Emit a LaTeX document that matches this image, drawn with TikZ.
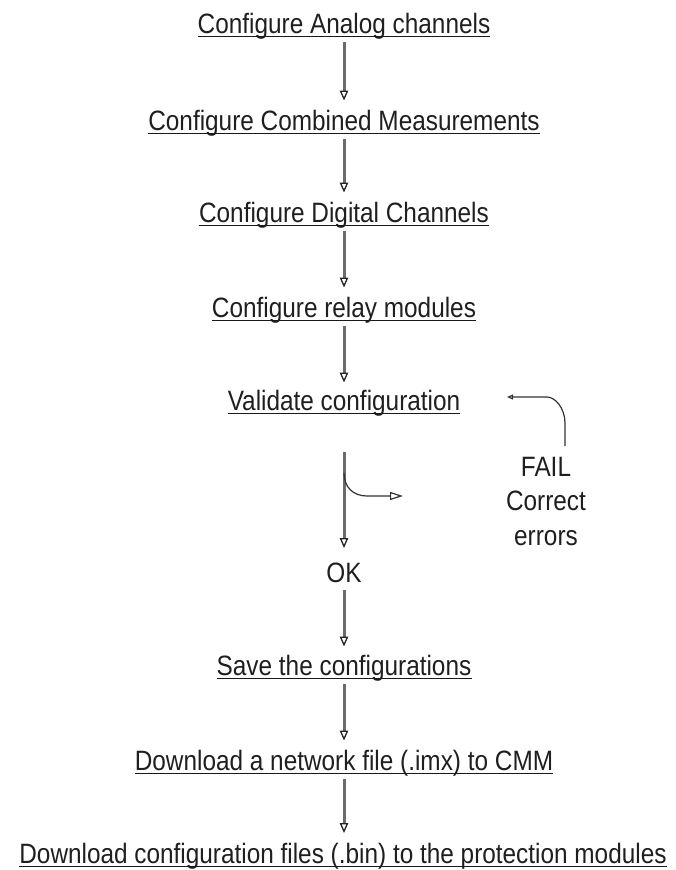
\documentclass[tikz,border=0pt]{standalone}
\usepackage{fontspec}
\setmainfont{Liberation Sans}[FakeStretch=0.87]
\usetikzlibrary{arrows.meta}
\begin{document}
\begin{tikzpicture}[x=1pt,y=-1pt,
  lbl/.style={inner sep=0pt, anchor=base, font=\fontsize{28}{34.5}\selectfont, text=black!88},
  flow/.style={draw=black!58, line width=3pt,
    -{Triangle[open,length=10pt,width=8.5pt,line width=1.3pt,color=black!85]}},
  thinarrow/.style={draw=black!80, line width=1.2pt,
    -{Triangle[open,length=13pt,width=8pt,line width=1.2pt]}},
  backarrow/.style={draw=black!80, line width=1.2pt,
    -{Triangle[open,length=6pt,width=5pt,line width=1.2pt]}},
  uline/.style={draw=black!90, line width=0.9pt}]
\useasboundingbox (0,0) rectangle (675,870);

\node[lbl] (n1) at (344,33) {Configure Analog channels};
\node[lbl] (n2) at (344,130) {Configure Combined Measurements};
\node[lbl] (n3) at (344,222) {Configure Digital Channels};
\node[lbl] (n4) at (344,317) {Configure relay modules};
\node[lbl] (n5) at (344,410) {Validate configuration};
\node[lbl] (ok) at (344,582) {OK};
\node[lbl] (n6) at (344,675) {Save the configurations};
\node[lbl] (n7) at (344,770) {Download a network file (.imx) to CMM};
\node[lbl] (n8) at (343,863) {Download configuration files (.bin) to the protection modules};
\node[lbl, anchor=north, align=center] (fail) at (546,457) {FAIL\\Correct\\errors};

\foreach \n in {n1,n2,n3,n4,n5,n6,n7,n8}
  \draw[uline] ([yshift=-3.5pt]\n.base west) -- ([yshift=-3.5pt]\n.base east);

\draw[flow] ([yshift=-8.5pt]n1.base) -- ([yshift=29.5pt]n2.base);
\draw[flow] ([yshift=-8.5pt]n2.base) -- ([yshift=29.5pt]n3.base);
\draw[flow] ([yshift=-8.5pt]n3.base) -- ([yshift=29.5pt]n4.base);
\draw[flow] ([yshift=-8.5pt]n4.base) -- ([yshift=27.5pt]n5.base);
\draw[flow] ([yshift=-42pt]n5.base) -- ([yshift=34pt]ok.base);
\draw[flow] ([yshift=-8pt]ok.base) -- ([yshift=28.5pt]n6.base);
\draw[flow] ([yshift=-8.5pt]n6.base) -- ([yshift=29.5pt]n7.base);
\draw[flow] ([yshift=-8.5pt]n7.base) -- ([xshift=1pt,yshift=30pt]n8.base);

% OK branch split
\coordinate (bsplit) at ([yshift=-63pt]n5.base);
\coordinate (bcorner) at (367,496);
\coordinate (bend) at (403,496);
\draw[thinarrow] (bsplit) .. controls ([yshift=-14pt]bsplit) and ([xshift=-14pt]bcorner) .. (bcorner) -- (bend);

% FAIL loop back
\coordinate (lstart) at ([xshift=19pt,yshift=11pt]fail.north);
\coordinate (lcorner) at (547,397);
\coordinate (lend) at (507,397);
\draw[backarrow] (lstart) -- ([yshift=23pt]lstart) .. controls ([yshift=38pt]lstart) and ([xshift=8pt]lcorner) .. (lcorner) -- (lend);
\end{tikzpicture}
\end{document}
